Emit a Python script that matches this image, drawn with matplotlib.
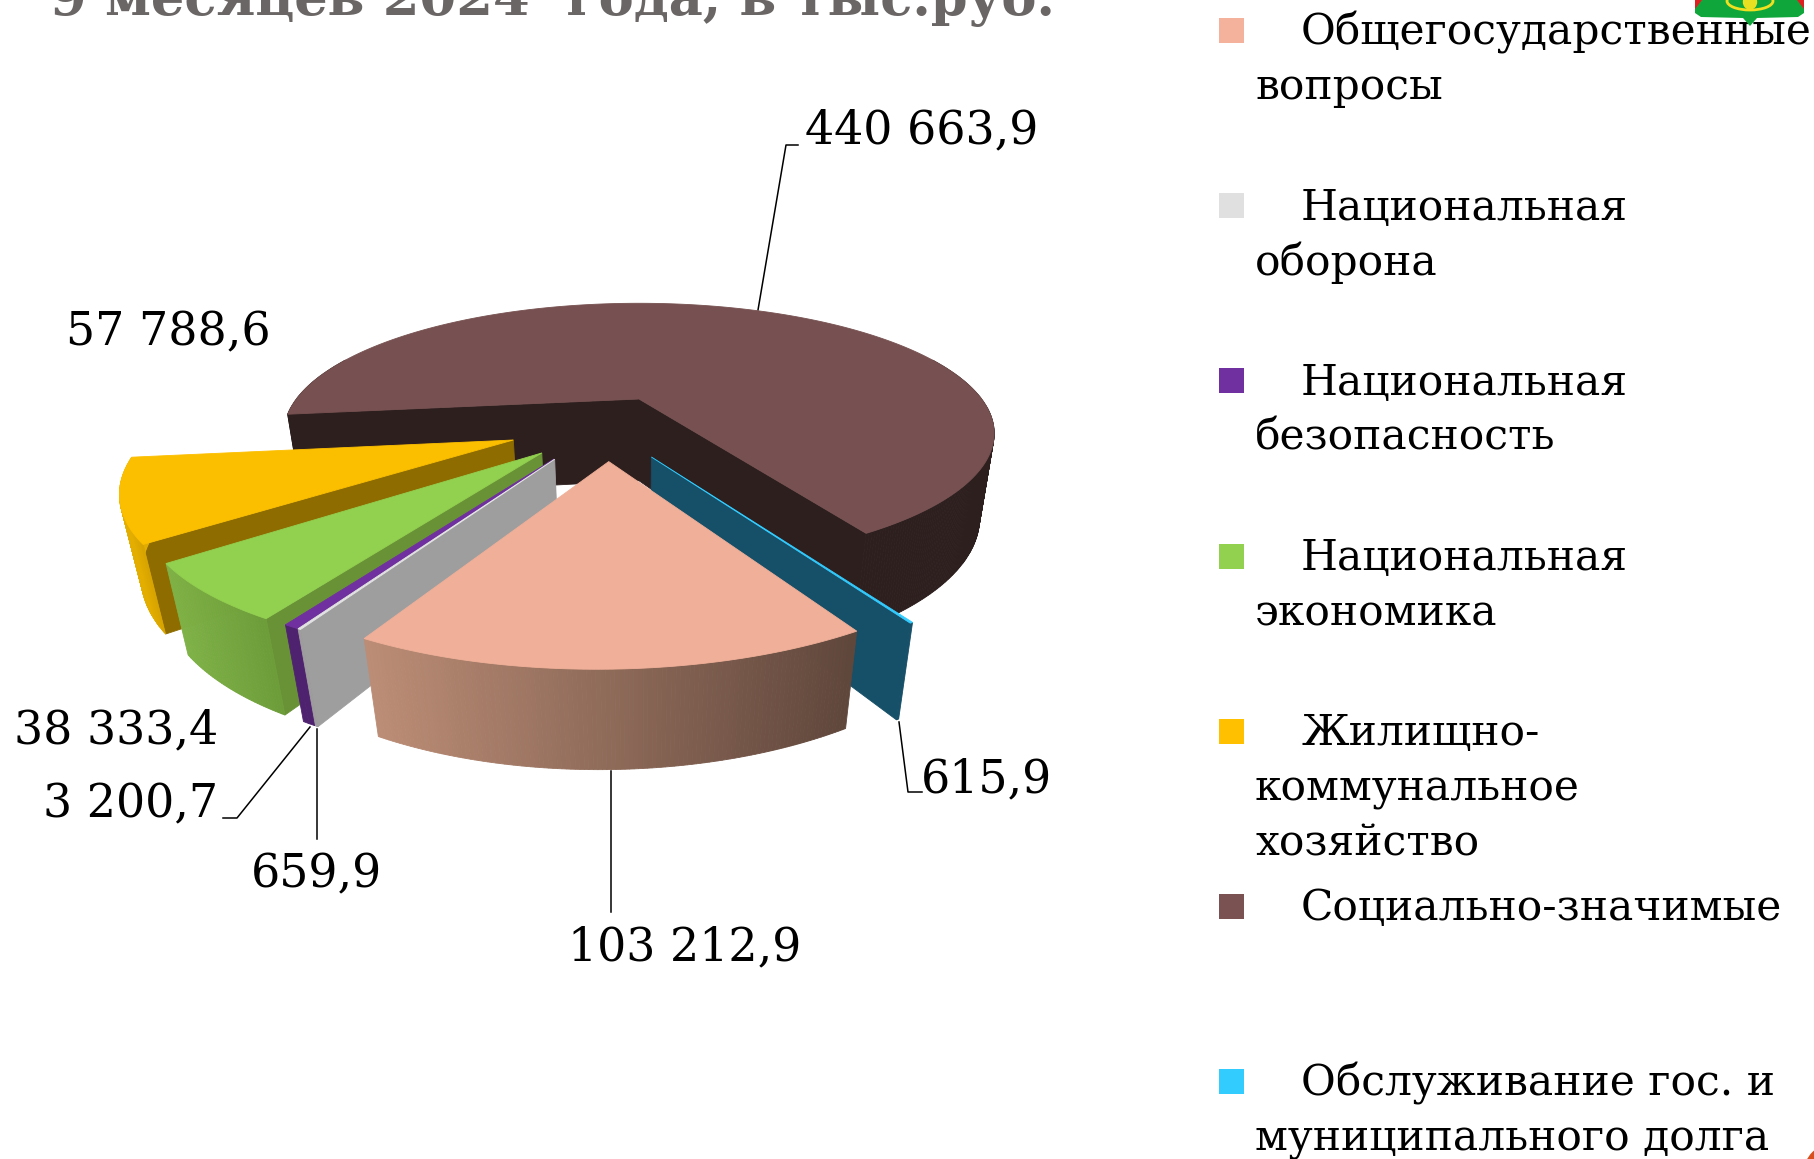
import numpy as np
import matplotlib
matplotlib.use("Agg")
import matplotlib.pyplot as plt
from matplotlib.patches import Polygon, Rectangle, Ellipse

# ---- data ----
title = "9 месяцев 2024  года, в тыс.руб."
categories = [
    ["Общегосударственные", "вопросы"],
    ["Национальная", "оборона"],
    ["Национальная", "безопасность"],
    ["Национальная", "экономика"],
    ["Жилищно-", "коммунальное", "хозяйство"],
    ["Социально-значимые"],
    ["Обслуживание гос. и", "муниципального долга"],
]
values = [103212.9, 659.9, 3200.7, 38333.4, 57788.6, 440663.9, 615.9]
value_labels = ["103 212,9", "659,9", "3 200,7", "38 333,4", "57 788,6", "440 663,9", "615,9"]

# ---- styles ----
legend_colors = ["#F4B29C", "#E0E0E0", "#7030A0", "#92D050", "#FFC000", "#7A5252", "#33CCFF"]
top_colors = ["#F0AF98", "#E4E4E4", "#7030A0", "#92D050", "#FCBF00", "#775151", "#33CCFF"]
wall_colors = ["#5F463B", "#9F9E9E", "#4F2270", "#699237", "#8E6C00", "#2E1F1F", "#164F68"]
rim_left = ["#BC8D76", "#9F9E9E", "#4F2270", "#7FB247", "#E3AE00", "#2E1F1F", "#164F68"]
rim_right = ["#5F463B", "#9F9E9E", "#4F2270", "#6C9C39", "#D6A300", "#2E1F1F", "#164F68"]
explode = [(-0.075, -0.455), (-0.21, -0.44), (-0.212, -0.439), (-0.245, -0.399),
           (-0.325, -0.311), (0.0, 0.0), (0.031, -0.4255)]
radius_x = [0.95, 0.93, 0.93, 0.95, 0.95, 0.965, 0.95]
radius_y = [0.95, 0.93, 0.93, 0.95, 0.95, 1.0, 0.95]
depth = [0.9, 0.9, 0.9, 0.9, 0.9, 1.0, 0.9]
paint_order = [5, 4, 3, 2, 1, 6, 0]
CX, CY, BX, AY, DZ, KY, MZ = 639.0, 399.0, 355.0, 121.0, 85.0, 0.264, 0.04

fig = plt.figure(figsize=(18.14, 11.59), dpi=100)
ax = fig.add_axes([0, 0, 1, 1])
ax.set_xlim(0, 1814)
ax.set_ylim(1159, 0)
ax.axis("off")


def proj(x, y, z=0.0):
    s = 1.0 / (1.0 + KY * y + MZ * z)
    return CX + BX * x * s, CY + (-AY * y + DZ * z) * s


def face(pts, color, zorder):
    ax.add_patch(Polygon(pts, closed=True, facecolor=color, edgecolor=color, lw=0.6, zorder=zorder))


def mix(c0, c1, t):
    a, b = np.array(matplotlib.colors.to_rgb(c0)), np.array(matplotlib.colors.to_rgb(c1))
    return a + (b - a) * t


# angle ranges: the sequence runs clockwise on screen from the blue slice's cut
deg = np.array(values) / np.sum(values) * 360.0
ranges = {}
end = 300.5
for i in range(6):
    ranges[i] = (end - deg[i], end)
    end -= deg[i]
ranges[6] = (300.5, 300.5 + deg[6])

z = 2
for i in paint_order:
    t0, t1 = ranges[i]
    ox, oy = explode[i]
    rx, ry, d = radius_x[i], radius_y[i], depth[i]
    th = np.radians(np.linspace(t0, t1, max(int(t1 - t0) * 2, 3)))
    X = ox + rx * np.cos(th)
    Y = oy + ry * np.sin(th)
    # cut walls, shown when their outward normal faces the viewer
    for ang, norm in ((t1, t1 + 90), (t0, t0 - 90)):
        if np.sin(np.radians(norm)) < 0:
            a = np.radians(ang)
            ex, ey = ox + rx * np.cos(a), oy + ry * np.sin(a)
            face([proj(ox, oy), proj(ex, ey), proj(ex, ey, d), proj(ox, oy, d)], wall_colors[i], z)
    # outer rim
    for j in range(len(th) - 1):
        if np.sin(th[j]) < 0.35 or np.sin(th[j + 1]) < 0.35:
            frac = (proj(X[j], Y[j])[0] - proj(X[0], Y[0])[0]) / max(
                proj(X[-1], Y[-1])[0] - proj(X[0], Y[0])[0], 1e-6)
            col = mix(rim_left[i], rim_right[i], np.clip(frac, 0, 1))
            face([proj(X[j], Y[j]), proj(X[j + 1], Y[j + 1]),
                  proj(X[j + 1], Y[j + 1], d), proj(X[j], Y[j], d)], col, z)
    # top
    top = [proj(ox, oy)] + [proj(a, b) for a, b in zip(X, Y)]
    face(top, top_colors[i], z + 0.5)
    z += 1

# leader lines
leaders = [
    [(758, 310), (786, 145), (798, 145)],
    [(899, 722), (908, 792), (922, 792)],
    [(611, 771), (611, 912)],
    [(317, 729), (317, 839)],
    [(310, 727), (237, 818), (223, 818)],
]
for pts in leaders:
    xs, ys = zip(*pts)
    ax.plot(xs, ys, color="black", lw=1.1, zorder=1 if pts[0][1] == 310 else 20)

# data labels
label_pos = [(685, 948), (316, 875), (131, 805), (116, 731), (168, 333), (922, 131), (987, 780)]
for txt, (lx, ly) in zip(value_labels, label_pos):
    ax.text(lx, ly, txt, ha="center", va="center", family="DejaVu Serif", fontsize=33,
            color="black", zorder=30)

# title, cut by the top edge as in the source
ax.text(50, 15, title, ha="left", va="baseline", family="DejaVu Serif", fontweight="bold",
        fontsize=38, color="#6A6665", zorder=30)

# legend
for i, (lines, c) in enumerate(zip(categories, legend_colors)):
    y0 = 175.2 * i
    ax.add_patch(Rectangle((1219, 18 + y0), 25, 25, facecolor=c, edgecolor="none", zorder=30))
    for j, line in enumerate(lines):
        ax.text(1301 if j == 0 else 1255, 44.5 + y0 + 55 * j, line, ha="left", va="baseline",
                family="DejaVu Serif", fontsize=30.5, color="black", zorder=30)

# emblem at the top right and corner ornament
ax.add_patch(Polygon([(1695, 0), (1804, 0), (1804, 13), (1798, 17), (1757, 18), (1750, 26),
                      (1743, 18), (1701, 17), (1695, 13)], closed=True, facecolor="#0FA63C",
                     edgecolor="none", zorder=41))
ax.add_patch(Polygon([(1695, 0), (1702, 0), (1695, 9)], closed=True, facecolor="#E02020", zorder=42))
ax.add_patch(Polygon([(1804, 0), (1797, 0), (1804, 9)], closed=True, facecolor="#E02020", zorder=42))
ax.add_patch(Ellipse((1750, 1), 46, 18, facecolor="none", edgecolor="#F0E020", lw=2, zorder=43))
ax.add_patch(Ellipse((1750, 2), 13, 14, facecolor="#E8E020", edgecolor="#F0E020", zorder=43))
ax.add_patch(Ellipse((1832, 1172), 56, 56, facecolor="#D9501E", edgecolor="none", zorder=40))

fig.savefig("out.png", dpi=100)
